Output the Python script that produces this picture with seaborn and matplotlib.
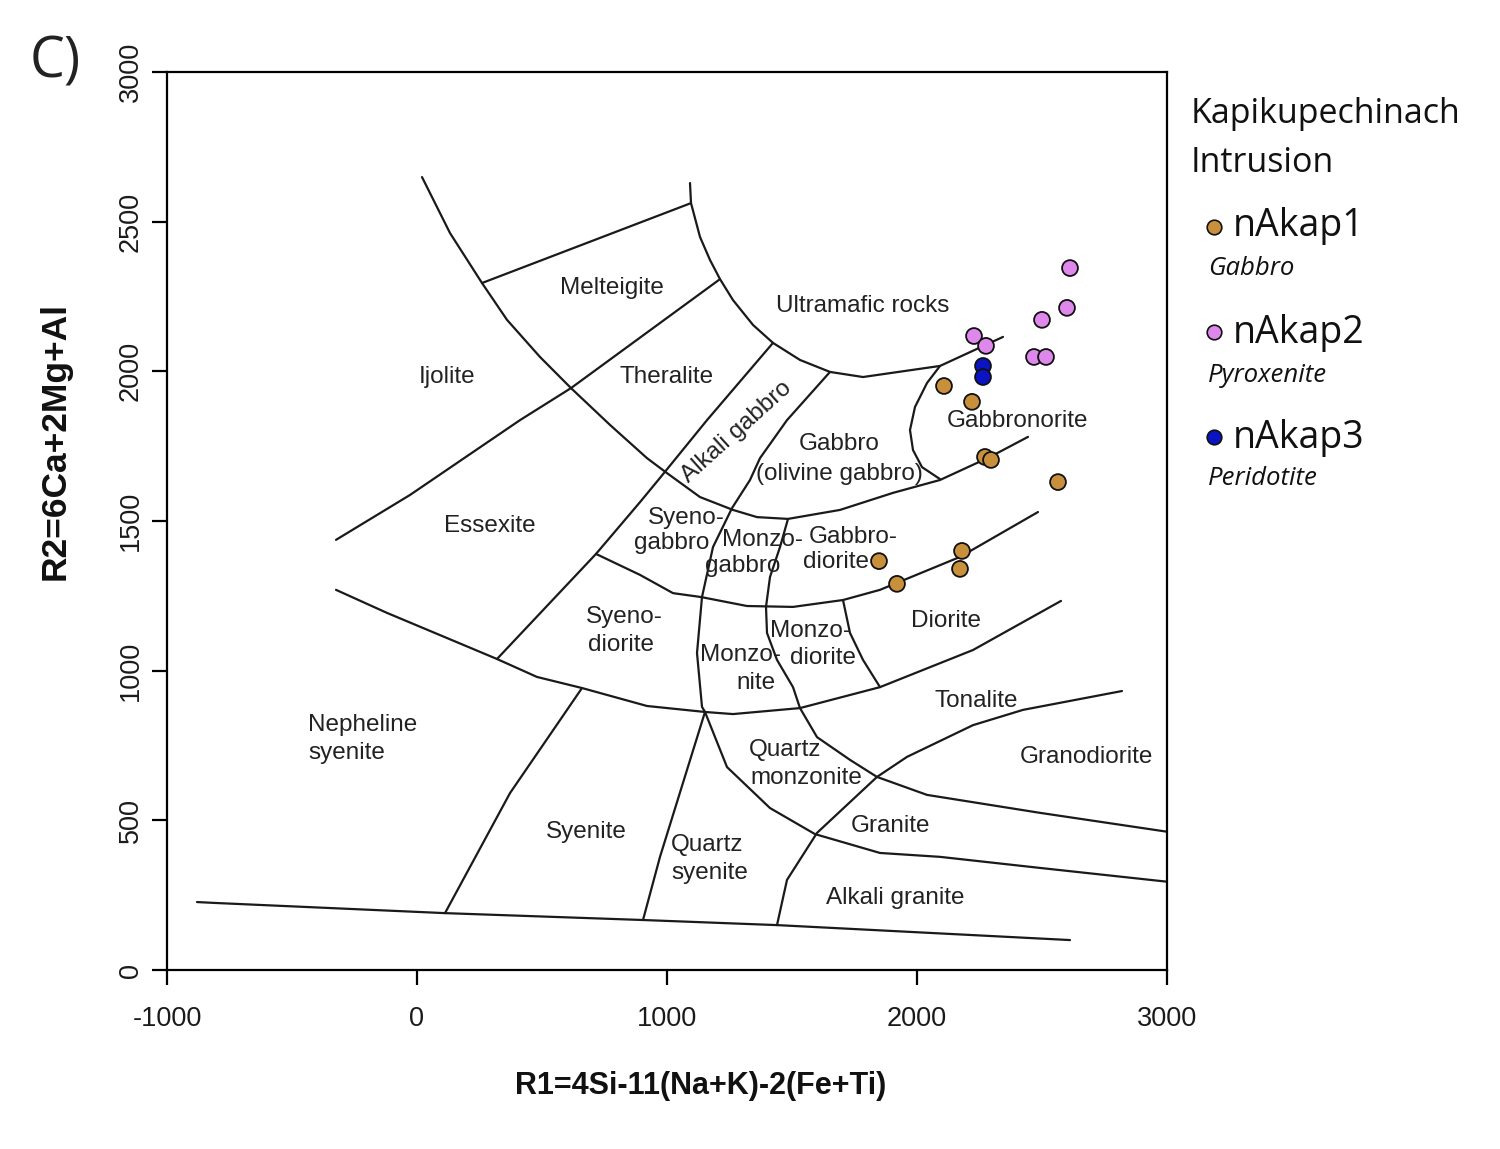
import matplotlib
matplotlib.use("Agg")
import matplotlib.pyplot as plt
import seaborn as sns
import pandas as pd
from matplotlib.lines import Line2D

sns.set_theme(style="white")
plt.rcParams["font.family"] = ["Liberation Sans", "DejaVu Sans"]
plt.rcParams["axes.unicode_minus"] = False

# ---------------- sample data (R1, R2) ----------------
akap1_r1 = [2108, 2220, 2272, 2296, 2564, 1848, 1920, 2180, 2172]
akap1_r2 = [1951, 1898, 1714, 1704, 1630, 1366, 1290, 1400, 1340]
akap2_r1 = [2612, 2600, 2500, 2228, 2276, 2468, 2516]
akap2_r2 = [2345, 2212, 2172, 2118, 2085, 2048, 2048]
akap3_r1 = [2264, 2264]
akap3_r2 = [2018, 1981]

series_names = ["nAkap1", "nAkap2", "nAkap3"]
series_rocks = ["Gabbro", "Pyroxenite", "Peridotite"]
series_colors = ["#C8903A", "#DE88EC", "#0A14C2"]

# ---------------- field boundaries (R1, R2) ----------------
bnd_main_r1 = [20, 132, 260, 360, 492, 616, 772, 920, 1000, 1132, 1264, 1360, 1484, 1692, 1904, 2092, 2292, 2444]
bnd_main_r2 = [2649, 2462, 2295, 2172, 2048, 1944, 1821, 1710, 1660, 1580, 1537, 1513, 1507, 1537, 1594, 1637, 1714, 1781]
bnd_melteigite_r1 = [260, 1096]
bnd_melteigite_r2 = [2295, 2562]
bnd_ultramafic_r1 = [1092, 1096, 1132, 1172, 1212, 1264, 1344, 1424, 1532, 1652, 1784, 1892, 2092, 2344]
bnd_ultramafic_r2 = [2629, 2562, 2449, 2372, 2308, 2238, 2155, 2095, 2038, 1998, 1981, 1994, 2018, 2115]
bnd_theralite_r1 = [1212, 616, 412, -28, -324]
bnd_theralite_r2 = [2308, 1944, 1837, 1587, 1437]
bnd_alkgab_left_r1 = [1424, 1160, 972, 892, 716, 320]
bnd_alkgab_left_r2 = [2095, 1837, 1644, 1563, 1390, 1039]
bnd_alkgab_right_r1 = [1652, 1480, 1372, 1332, 1260, 1184, 1140, 1120, 1140, 1152]
bnd_alkgab_right_r2 = [1998, 1837, 1710, 1637, 1543, 1413, 1246, 1059, 879, 862]
bnd_qzsyenite_r1 = [1152, 972, 904]
bnd_qzsyenite_r2 = [862, 378, 167]
bnd_qzmonz_r1 = [1152, 1240, 1412, 1592, 1852, 2092, 2492, 3000]
bnd_qzmonz_r2 = [862, 678, 541, 454, 391, 378, 341, 295]
bnd_syenite_r1 = [660, 372, 112]
bnd_syenite_r2 = [942, 591, 190]
bnd_base_r1 = [-880, -808, 112, 904, 1440, 2612]
bnd_base_r2 = [227, 224, 190, 167, 150, 100]
bnd_nepheline_r1 = [-324, -120, 320, 480, 660, 920, 1152, 1264, 1532, 1852, 2224, 2576]
bnd_nepheline_r2 = [1270, 1193, 1039, 979, 942, 882, 862, 855, 875, 945, 1069, 1233]
bnd_gabbrodiorite_r1 = [716, 892, 1024, 1136, 1320, 1504, 1704, 1852, 2172, 2484]
bnd_gabbrodiorite_r2 = [1390, 1320, 1259, 1246, 1216, 1213, 1236, 1270, 1380, 1530]
bnd_monzo_r1 = [1484, 1452, 1412, 1396, 1400, 1440, 1504, 1532, 1600, 1732, 1840, 2040, 2492, 3000]
bnd_monzo_r2 = [1507, 1413, 1313, 1213, 1126, 1036, 945, 875, 778, 702, 645, 585, 525, 462]
bnd_diorite_r1 = [1704, 1732, 1784, 1852]
bnd_diorite_r2 = [1236, 1126, 1036, 945]
bnd_gabbronorite_r1 = [2092, 2040, 1992, 1972, 1984, 2020, 2092]
bnd_gabbronorite_r2 = [2018, 1961, 1881, 1804, 1737, 1680, 1640]
bnd_granodiorite_r1 = [1440, 1480, 1600, 1840, 1960, 2224, 2424, 2820]
bnd_granodiorite_r2 = [150, 301, 458, 645, 712, 818, 869, 932]

boundaries = [
    (bnd_main_r1, bnd_main_r2), (bnd_melteigite_r1, bnd_melteigite_r2),
    (bnd_ultramafic_r1, bnd_ultramafic_r2), (bnd_theralite_r1, bnd_theralite_r2),
    (bnd_alkgab_left_r1, bnd_alkgab_left_r2), (bnd_alkgab_right_r1, bnd_alkgab_right_r2),
    (bnd_qzsyenite_r1, bnd_qzsyenite_r2), (bnd_qzmonz_r1, bnd_qzmonz_r2),
    (bnd_syenite_r1, bnd_syenite_r2), (bnd_base_r1, bnd_base_r2),
    (bnd_nepheline_r1, bnd_nepheline_r2), (bnd_gabbrodiorite_r1, bnd_gabbrodiorite_r2),
    (bnd_monzo_r1, bnd_monzo_r2), (bnd_diorite_r1, bnd_diorite_r2),
    (bnd_gabbronorite_r1, bnd_gabbronorite_r2), (bnd_granodiorite_r1, bnd_granodiorite_r2),
]

# ---------------- field labels ----------------
field_text = ["Melteigite", "Ultramafic rocks", "Ijolite", "Theralite", "Gabbro", "(olivine gabbro)",
              "Gabbronorite", "Essexite", "Syeno-", "gabbro", "Monzo-", "gabbro", "Gabbro-", "diorite",
              "Syeno-", "diorite", "Diorite", "Monzo-", "diorite", "Monzo-", "nite", "Tonalite",
              "Nepheline", "syenite", "Quartz", "monzonite", "Granodiorite", "Syenite", "Quartz",
              "syenite", "Granite", "Alkali granite"]
field_r1 = [780, 1784, 120, 1000, 1688, 1688, 2400, 292, 1076, 1020, 1384, 1304, 1744, 1676,
            828, 816, 2116, 1572, 1624, 1292, 1356, 2236, -216, -280, 1472, 1556, 2676, 676, 1160,
            1172, 1892, 1912]
field_r2 = [2278, 2218, 1981, 1981, 1757, 1657, 1834, 1483, 1510, 1427, 1437, 1350, 1447, 1363,
            1179, 1086, 1166, 1133, 1042, 1052, 959, 899, 818, 725, 735, 641, 712, 461, 418,
            324, 481, 241]
rot_label = "Alkali gabbro"
rot_r1, rot_r2, rot_angle = 1280, 1797, 42

x_ticks = [-1000, 0, 1000, 2000, 3000]
y_ticks = [0, 500, 1000, 1500, 2000, 2500, 3000]

# ---------------- figure ----------------
W, H = 1500, 1149
fig = plt.figure(figsize=(W / 100, H / 100), dpi=100)
ax = fig.add_axes([167 / W, 1 - 970 / H, 1000 / W, 898 / H])

line_col = "#1a1a1a"
for bx, by in boundaries:
    sns.lineplot(x=bx, y=by, sort=False, estimator=None, color=line_col, lw=1.6, ax=ax)

df = pd.concat([
    pd.DataFrame({"R1": akap1_r1, "R2": akap1_r2, "sample": series_names[0]}),
    pd.DataFrame({"R1": akap2_r1, "R2": akap2_r2, "sample": series_names[1]}),
    pd.DataFrame({"R1": akap3_r1, "R2": akap3_r2, "sample": series_names[2]}),
], ignore_index=True)
sns.scatterplot(data=df, x="R1", y="R2", hue="sample",
                palette=dict(zip(series_names, series_colors)), s=130,
                edgecolor="#111111", linewidth=1.3, legend=False, ax=ax, zorder=5)

for t, xx, yy in zip(field_text, field_r1, field_r2):
    ax.text(xx, yy, t, ha="center", va="center", fontsize=17.5, color="#222222")
ax.text(rot_r1, rot_r2, rot_label, ha="center", va="center", rotation=rot_angle,
        rotation_mode="anchor", fontsize=17.5, color="#222222")

ax.set_xlim(-1000, 3000)
ax.set_ylim(0, 3000)
ax.set_xticks(x_ticks)
ax.set_yticks(y_ticks)
ax.set_xlabel("")
ax.set_ylabel("")
for sp in ax.spines.values():
    sp.set_visible(True)
    sp.set_color("black")
    sp.set_linewidth(1.6)
ax.tick_params(axis="both", direction="out", length=10.8, width=1.6, colors="black",
               labelsize=19.5, labelcolor="#1a1a1a", bottom=True, left=True)
ax.tick_params(axis="x", pad=15)
ax.tick_params(axis="y", pad=6, labelrotation=90)
for lab in ax.get_yticklabels():
    lab.set_va("center")

fig.text(701 / W, 1 - 1086 / H, "R1=4Si-11(Na+K)-2(Fe+Ti)", ha="center", va="center",
         fontsize=22, fontweight="bold", color="#111111")
fig.text(55 / W, 1 - 441 / H, "R2=6Ca+2Mg+Al", ha="center", va="center", rotation=90,
         fontsize=25.5, fontweight="bold", color="#111111")

leg_font = ["Open Sans", "DejaVu Sans"]
fig.text(30 / W, 1 - 78 / H, "C)", ha="left", va="baseline", fontsize=40,
         family=leg_font, color="#222222")

fig.text(1191 / W, 1 - 123 / H, "Kapikupechinach", ha="left", va="baseline",
         fontsize=24.5, family=leg_font, color="#111111")
fig.text(1191 / W, 1 - 172 / H, "Intrusion", ha="left", va="baseline",
         fontsize=24.5, family=leg_font, color="#111111")
marker_y = [227, 332, 437]
name_base = [236, 343, 448]
rock_base = [275, 382, 485]
for i in range(3):
    fig.add_artist(Line2D([1214 / W], [1 - marker_y[i] / H], transform=fig.transFigure,
                          marker="o", markersize=10.5, markerfacecolor=series_colors[i],
                          markeredgecolor="#111111", markeredgewidth=1.2, linestyle="none"))
    fig.text(1233 / W, 1 - name_base[i] / H, series_names[i], ha="left", va="baseline",
             fontsize=27, family=leg_font, color="#111111")
    fig.text(1208 / W, 1 - rock_base[i] / H, series_rocks[i], ha="left", va="baseline",
             fontsize=18.5, style="italic", family=leg_font, color="#111111")

fig.savefig("out.png", dpi=100)
